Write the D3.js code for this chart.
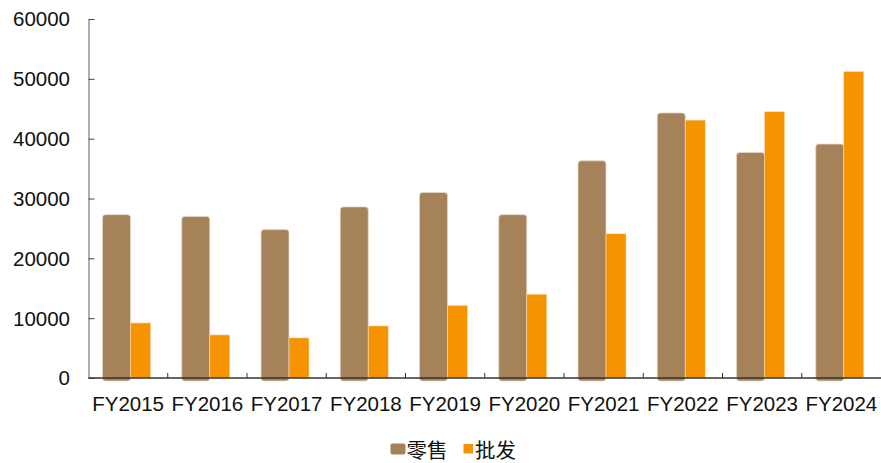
<!DOCTYPE html>
<html>
<head>
<meta charset="utf-8">
<script src="https://cdn.jsdelivr.net/npm/d3@7"></script>
<style>
  html, body { margin: 0; padding: 0; background: #fff; }
  svg { display: block; }
</style>
</head>
<body>
<svg id="chart" width="881" height="463"></svg>
<script>
// Fiscal years and the two sales channels
const categories = ["FY2015","FY2016","FY2017","FY2018","FY2019","FY2020","FY2021","FY2022","FY2023","FY2024"];
const retail    = [27300, 27000, 24800, 28600, 31000, 27300, 36300, 44300, 37700, 39100];
const wholesale = [9200, 7200, 6700, 8700, 12100, 14000, 24100, 43100, 44500, 51200];
const yTicks = [0, 10000, 20000, 30000, 40000, 50000, 60000];
const seriesNames = ["零售", "批发"];

const colorRetail = "#A6825A";
const colorWholesale = "#F59300";

const svg = d3.select("#chart");
const plotLeft = 88.5, plotRight = 881, plotTop = 19, plotBottom = 378;

const x = d3.scaleBand().domain(categories).range([plotLeft, plotRight]).paddingInner(0).paddingOuter(0);
const y = d3.scaleLinear().domain([0, 60000]).range([plotBottom, plotTop]);

const bw = x.bandwidth();
const retailOff = bw * 14 / 79.25, retailW = bw * 28 / 79.25;
const wholeOff = bw * 42 / 79.25, wholeW = bw * 20 / 79.25;

// Retail bars: rounded corners, running a little past the baseline
svg.append("g").selectAll("rect").data(categories).join("rect")
  .attr("x", d => x(d) + retailOff)
  .attr("y", (d, i) => y(retail[i]))
  .attr("width", retailW)
  .attr("height", (d, i) => y(0) - y(retail[i]) + 3)
  .attr("rx", 3).attr("ry", 3)
  .attr("fill", colorRetail)
  .attr("stroke", "#E6D8C6").attr("stroke-width", 0.8);

// Wholesale bars
svg.append("g").selectAll("rect").data(categories).join("rect")
  .attr("x", d => x(d) + wholeOff)
  .attr("y", (d, i) => y(wholesale[i]))
  .attr("width", wholeW)
  .attr("height", (d, i) => y(0) - y(wholesale[i]))
  .attr("fill", colorWholesale)
  .attr("stroke", "#FAD9A8").attr("stroke-width", 0.6);

// Y axis with inward ticks
const yAxis = svg.append("g").attr("transform", `translate(${plotLeft},0)`)
  .call(d3.axisRight(y).tickValues(yTicks).tickSize(6).tickSizeOuter(0).tickFormat(""));
yAxis.select(".domain").attr("stroke", "#777").attr("stroke-width", 1.2);
yAxis.selectAll(".tick line").attr("stroke", "#444");

svg.append("g").selectAll("text").data(yTicks).join("text")
  .attr("x", 70).attr("y", d => y(d))
  .attr("dy", "0.36em")
  .attr("text-anchor", "end")
  .attr("font-family", "Liberation Sans, Arial, sans-serif")
  .attr("font-size", "20.5px")
  .attr("fill", "#111")
  .text(d => d);

// X axis: boundary ticks pointing up
const xAxis = svg.append("g").attr("transform", `translate(0,${plotBottom})`);
xAxis.append("line").attr("x1", plotLeft).attr("x2", plotRight).attr("stroke", "#333").attr("stroke-width", 1.4);
xAxis.selectAll("line.tk").data(categories.slice(1)).join("line")
  .attr("class", "tk")
  .attr("x1", d => x(d)).attr("x2", d => x(d))
  .attr("y1", 0).attr("y2", -5)
  .attr("stroke", "#333");

svg.append("g").selectAll("text").data(categories).join("text")
  .attr("x", d => x(d) + bw / 2).attr("y", 410.5)
  .attr("text-anchor", "middle")
  .attr("font-family", "Liberation Sans, Arial, sans-serif")
  .attr("font-size", "20.5px")
  .attr("fill", "#111")
  .text(d => d);

// Legend
const legend = svg.append("g");
legend.append("rect").attr("x", 390.5).attr("y", 443.5).attr("width", 15).attr("height", 11)
  .attr("rx", 2).attr("fill", colorRetail);
legend.append("text").attr("x", 406.5).attr("y", 458)
  .attr("font-family", "Noto Sans CJK SC, sans-serif").attr("font-size", "20.5px").attr("fill", "#111")
  .text(seriesNames[0]);
legend.append("rect").attr("x", 463.5).attr("y", 444).attr("width", 9.5).attr("height", 9.5)
  .attr("fill", colorWholesale);
legend.append("text").attr("x", 475).attr("y", 458)
  .attr("font-family", "Noto Sans CJK SC, sans-serif").attr("font-size", "20.5px").attr("fill", "#111")
  .text(seriesNames[1]);
</script>
</body>
</html>
